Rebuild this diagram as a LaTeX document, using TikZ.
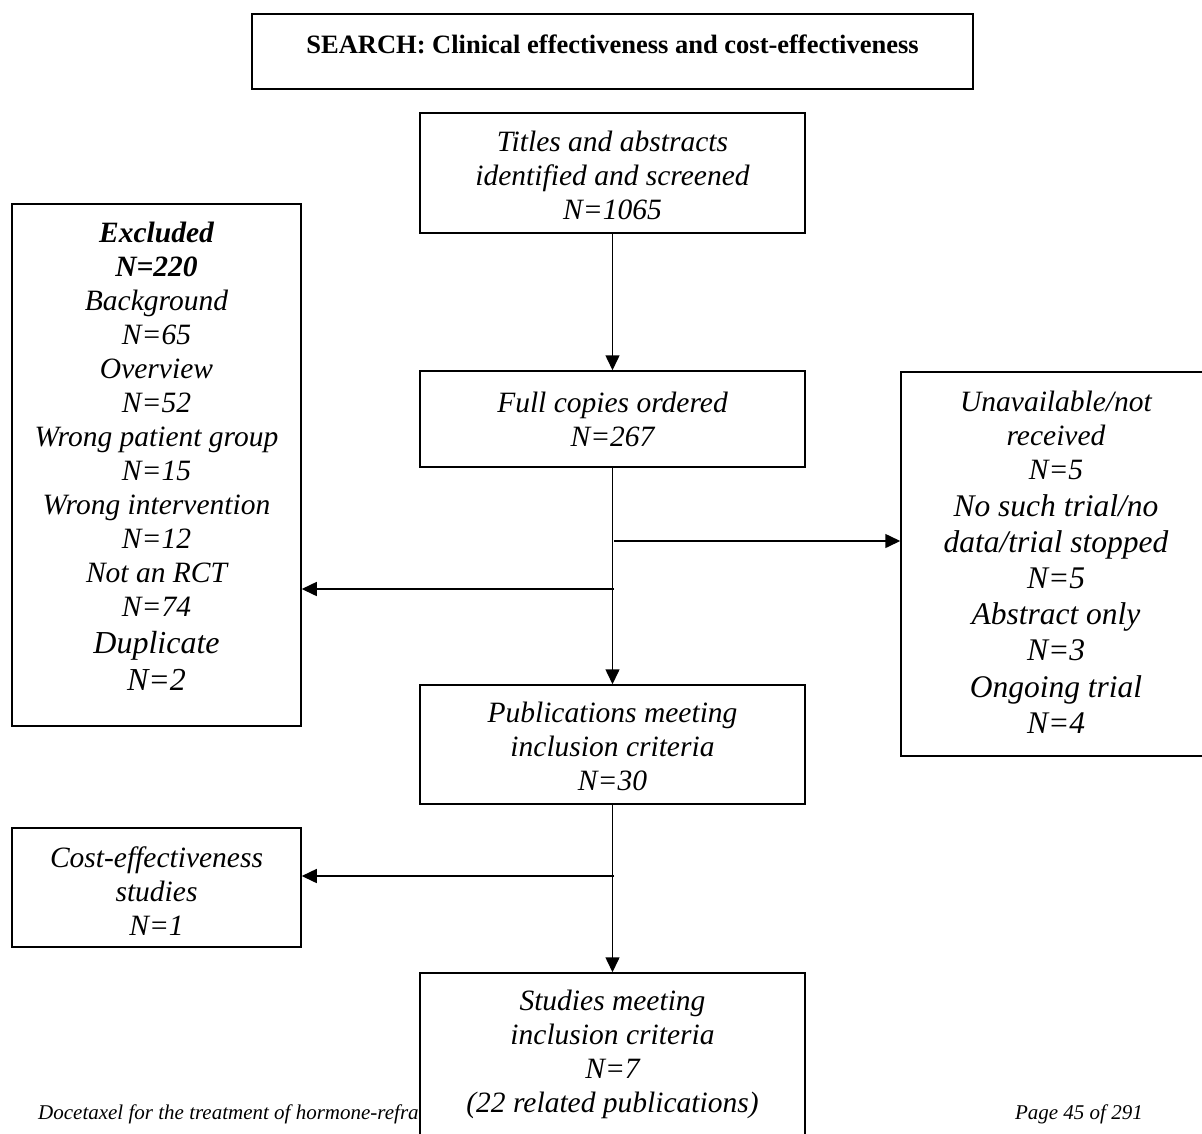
\documentclass[tikz,border=0pt]{standalone}
\usepackage{fontspec}
\setmainfont{Liberation Serif}
\usetikzlibrary{arrows.meta,positioning}

\begin{document}
\begin{tikzpicture}[
    x=1pt, y=-1pt,
    box/.style={draw, line width=1.5pt, fill=white, align=center, inner sep=0pt, font=\fontsize{29.5}{34}\selectfont\itshape},
    foot/.style={font=\fontsize{21}{24}\selectfont\itshape, inner sep=0pt},
    >={Triangle[length=15pt,width=14pt]}
]
\useasboundingbox (0,0) rectangle (1202,1133);
\clip (0,0) rectangle (1202,1133);
\fill[white] (0,0) rectangle (1202,1133);

% page footer, partly hidden by the last box
\node[foot, anchor=base west] (footleft) at (38,1119) {Docetaxel for the treatment of hormone-refra};
\node[foot, anchor=base east] (footright) at (1143,1119) {Page 45 of 291};

\node[box, font=\fontsize{26.5}{30}\selectfont\bfseries, minimum width=721pt, minimum height=75pt] (search) at (612.5,51.5) {SEARCH: Clinical effectiveness and cost-effectiveness\rule[-15pt]{0pt}{15pt}};
\node[box, minimum width=385pt, minimum height=120pt] (titles) at (612.5,173) {\rule{0pt}{26pt}Titles and abstracts\\identified and screened\\N=1065};
\node[box, minimum width=385pt, minimum height=96pt] (full) at (612.5,419) {Full copies ordered\\N=267};
\node[box, minimum width=289pt, minimum height=522pt] (excl) at (156.5,465) {\textbf{Excluded}\\\textbf{N=220}\\Background\\N=65\\Overview\\N=52\\Wrong patient group\\N=15\\Wrong intervention\\N=12\\Not an RCT\\N=74\\[3pt]{\fontsize{32}{37}\selectfont Duplicate}\\[3pt]{\fontsize{32}{37}\selectfont N=2}\rule[-18pt]{0pt}{18pt}};
\node[box, minimum width=310pt, minimum height=384pt] (unav) at (1056,564) {Unavailable/not\\received\\N=5\\[3pt]{\fontsize{31.5}{36}\selectfont No such trial/no}\\[2pt]{\fontsize{31.5}{36}\selectfont data/trial stopped}\\[2pt]{\fontsize{31.5}{36}\selectfont N=5}\\[2pt]{\fontsize{31.5}{36}\selectfont Abstract only}\\[2pt]{\fontsize{31.5}{36}\selectfont N=3}\\[3pt]{\fontsize{31.5}{36}\selectfont Ongoing trial}\\[2pt]{\fontsize{31.5}{36}\selectfont N=4}\rule[-4pt]{0pt}{4pt}};
\node[box, minimum width=385pt, minimum height=119pt] (pubs) at (612.5,744.5) {\rule{0pt}{25pt}Publications meeting\\inclusion criteria\\N=30};
\node[box, minimum width=289pt, minimum height=119pt] (cost) at (156.5,887.5) {\rule{0pt}{27pt}Cost-effectiveness\\studies\\N=1};
\node[box, minimum width=385pt, minimum height=170pt] (studies) at (612.5,1058) {\rule{0pt}{24pt}Studies meeting\\inclusion criteria\\N=7\\(22 related publications)\rule[-16.5pt]{0pt}{16.5pt}};

\coordinate (splitR) at (614,541);
\coordinate (splitL) at (614,589);
\coordinate (splitC) at (614,876);

\begin{scope}[line width=1.5pt]
\draw[->] (titles) -- (full);
\draw[->] (full) -- (pubs);
\draw[->] (splitR) -- (unav.west |- splitR);
\draw[->] (splitL) -- (excl.east |- splitL);
\draw[->] (pubs) -- (studies);
\draw[->] (splitC) -- (cost.east |- splitC);
\end{scope}
\end{tikzpicture}
\end{document}
